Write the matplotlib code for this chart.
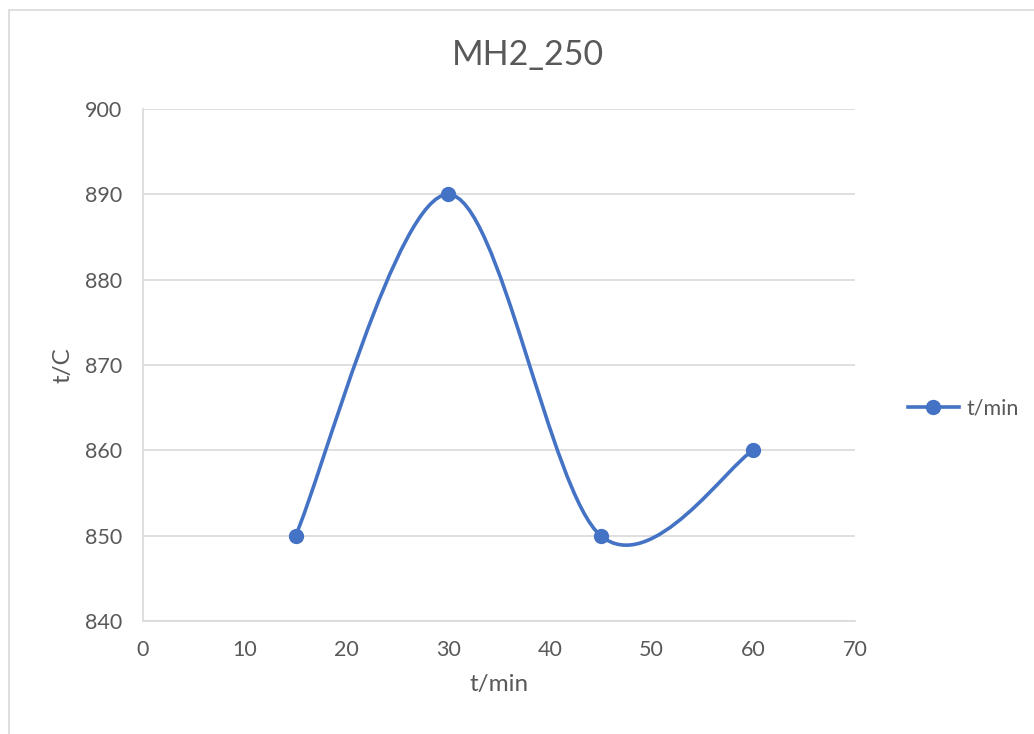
import matplotlib
matplotlib.use("Agg")
import matplotlib.pyplot as plt
from matplotlib.path import Path
from matplotlib.patches import PathPatch, Rectangle
from matplotlib.lines import Line2D

# Data
x_vals = [15, 30, 45, 60]
y_vals = [850, 890, 850, 860]
series_name = "t/min"
title = "MH2_250"
x_label = "t/min"
y_label = "t/C"
x_ticks = [0, 10, 20, 30, 40, 50, 60, 70]
y_ticks = [840, 850, 860, 870, 880, 890, 900]

LINE = "#4472C4"
GRID = "#D9D9D9"
TXT = "#595959"

plt.rcParams['font.family'] = ['Lato', 'DejaVu Sans']

W, H = 1034, 734
fig = plt.figure(figsize=(W / 100, H / 100), dpi=100)
ax = fig.add_axes([143 / W, 1 - 621 / H, (855 - 143) / W, (621 - 109) / H])

# chart area border
fig.patches.append(Rectangle((9 / W, -0.1), 1.2, 1 - 10 / H + 0.1, transform=fig.transFigure,
                             fill=False, edgecolor=GRID, linewidth=1.2))

# Smoothed line (Excel-style Bezier through the points)
pts = list(zip(x_vals, y_vals))
verts = [pts[0]]
codes = [Path.MOVETO]
n = len(pts)
for i in range(n - 1):
    p0 = pts[i - 1] if i > 0 else pts[i]
    p1 = pts[i]
    p2 = pts[i + 1]
    p3 = pts[i + 2] if i + 2 < n else pts[i + 1]
    c1 = (p1[0] + (p2[0] - p0[0]) / 6, p1[1] + (p2[1] - p0[1]) / 6)
    c2 = (p2[0] - (p3[0] - p1[0]) / 6, p2[1] - (p3[1] - p1[1]) / 6)
    verts += [c1, c2, p2]
    codes += [Path.CURVE4] * 3
ax.add_patch(PathPatch(Path(verts, codes), facecolor='none', edgecolor=LINE, linewidth=2.6,
                       capstyle='round', zorder=3))
ax.plot(x_vals, y_vals, linestyle='none', marker='o', markersize=10, color=LINE, zorder=4)

ax.set_xlim(0, 70)
ax.set_ylim(840, 900)
ax.set_xticks(x_ticks)
ax.set_yticks(y_ticks)
ax.grid(axis='y', color=GRID, linewidth=1.2)
ax.set_axisbelow(True)
for s in ['top', 'right']:
    ax.spines[s].set_visible(False)
ax.spines['left'].set_color(GRID)
ax.spines['bottom'].set_color(GRID)
ax.spines['left'].set_linewidth(1.2)
ax.spines['bottom'].set_linewidth(1.2)
ax.tick_params(axis='y', length=0, labelsize=15.5, labelcolor=TXT, pad=15)
ax.tick_params(axis='x', length=0, labelsize=15.5, labelcolor=TXT, pad=14)

ax.set_xlabel(x_label, fontsize=17.5, color=TXT, labelpad=10)
ax.set_ylabel(y_label, fontsize=17.5, color=TXT, labelpad=8)
fig.text(528 / W, 1 - 55 / H, title, fontsize=24.5, color=TXT, ha='center', va='center')

handle = Line2D([], [], color=LINE, linewidth=2.6, marker='o', markersize=10)
fig.legend([handle], [series_name], loc='center left', bbox_to_anchor=(908 / W, 1 - 409 / H),
           frameon=False, fontsize=15.5, labelcolor=TXT, handlelength=2.35, handletextpad=0.35,
           borderaxespad=0, borderpad=0)

fig.savefig("out.png", dpi=100, facecolor='white')
